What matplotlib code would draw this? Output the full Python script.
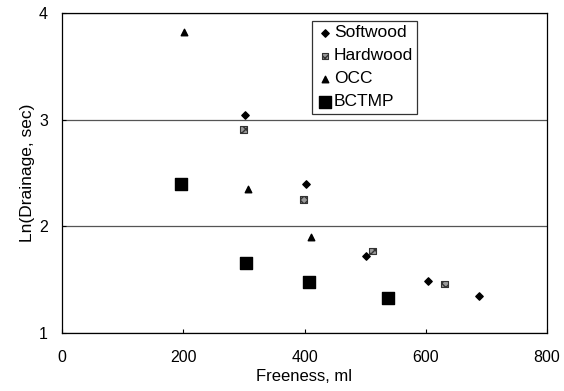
import matplotlib
matplotlib.use("Agg")
import matplotlib.pyplot as plt

# data
softwood_x = [302, 402, 502, 603, 688]
softwood_y = [3.04, 2.40, 1.72, 1.49, 1.35]
hardwood_x = [299, 398, 512, 631]
hardwood_y = [2.91, 2.25, 1.77, 1.46]
occ_x = [201, 306, 411]
occ_y = [3.82, 2.35, 1.90]
bctmp_x = [197, 303, 408, 537]
bctmp_y = [2.40, 1.66, 1.48, 1.33]

plt.rcParams['font.family'] = ['Liberation Sans', 'DejaVu Sans']

fig = plt.figure(figsize=(5.64, 3.91), dpi=100)
ax = fig.add_axes([62/564, 1 - 333/391, (547-62)/564, (333-13)/391])

ax.scatter(softwood_x, softwood_y, marker='D', s=14, color='black', label='Softwood', zorder=3)
ax.scatter(hardwood_x, hardwood_y, marker='s', s=22, facecolor='#9a9a9a', edgecolor='#333333',
           linewidth=0.8, hatch='xxxx', label='Hardwood', zorder=3)
ax.scatter(occ_x, occ_y, marker='^', s=22, color='black', label='OCC', zorder=3)
ax.scatter(bctmp_x, bctmp_y, marker='s', s=70, color='black', label='BCTMP', zorder=3)

ax.set_xlim(0, 800)
ax.set_ylim(1, 4)
ax.set_xticks([0, 200, 400, 600, 800])
ax.set_yticks([1, 2, 3, 4])
ax.tick_params(direction='in', length=3, labelsize=11.5)
ax.tick_params(axis='x', pad=12)
ax.tick_params(axis='y', pad=10)
ax.yaxis.grid(True, color='#555555', linewidth=0.9)
ax.set_axisbelow(True)
for s in ax.spines.values():
    s.set_linewidth(0.9)

ax.set_xlabel('Freeness, ml', fontsize=12, labelpad=3)
ax.set_ylabel('Ln(Drainage, sec)', fontsize=12.5, labelpad=3)

leg = ax.legend(loc='upper left', bbox_to_anchor=((312-62)/(547-62), 1 - 8/320),
                fontsize=12.5, frameon=True, fancybox=False, edgecolor='black',
                handletextpad=0.0, borderpad=0.25, labelspacing=0.45,
                handlelength=1.0, borderaxespad=0, scatterpoints=1)
leg.get_frame().set_linewidth(0.9)

fig.savefig('out.png', dpi=100)
